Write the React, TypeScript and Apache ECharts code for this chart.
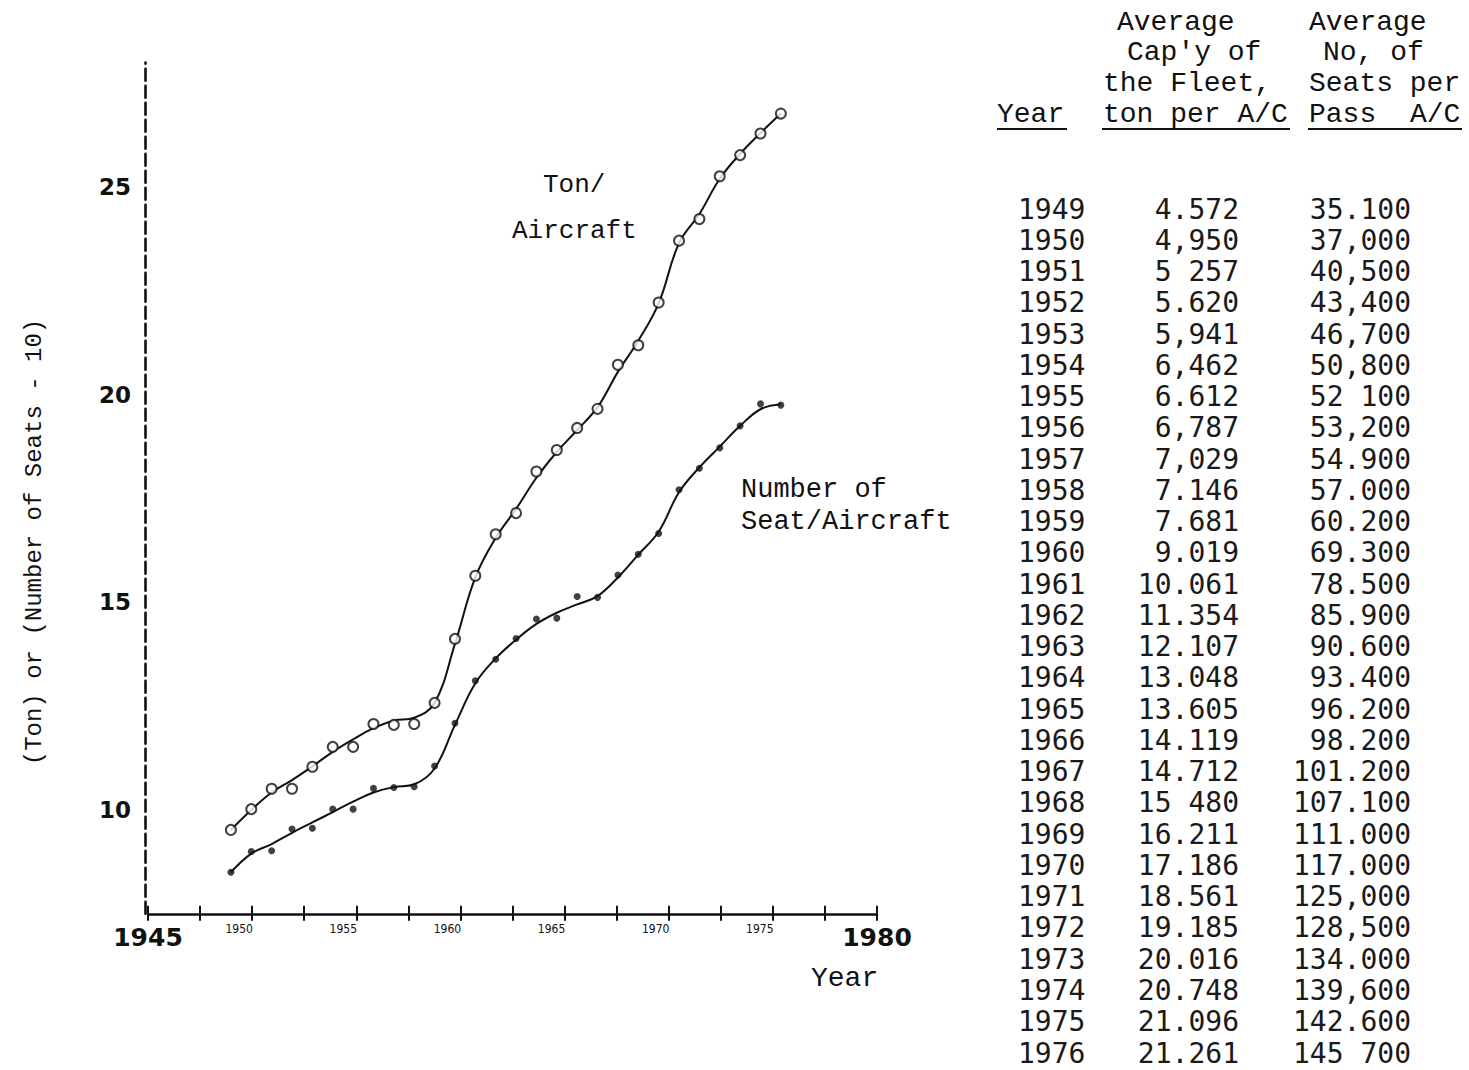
import React, { useEffect, useRef } from "react";
import * as echarts from "echarts";

// ---- data ----
const years = [
  1949, 1950, 1951, 1952, 1953, 1954, 1955, 1956, 1957, 1958, 1959, 1960, 1961, 1962,
  1963, 1964, 1965, 1966, 1967, 1968, 1969, 1970, 1971, 1972, 1973, 1974, 1975, 1976,
];
// Ton/Aircraft plotted points (open circles)
const tonPoints = [
  9.52, 10.02, 10.51, 10.51, 11.04, 11.52, 11.52, 12.07, 12.05, 12.07, 12.58, 14.12, 15.64, 16.64,
  17.15, 18.15, 18.67, 19.2, 19.66, 20.72, 21.19, 22.22, 23.71, 24.23, 25.26, 25.77, 26.29, 26.77,
];
// hand-drawn fitted curve through the Ton/Aircraft points
const tonCurve = [
  9.52, 10.0, 10.42, 10.72, 11.05, 11.4, 11.7, 11.97, 12.15, 12.22, 12.58, 14.0, 15.6, 16.55,
  17.25, 18.0, 18.62, 19.15, 19.7, 20.55, 21.3, 22.2, 23.65, 24.35, 25.2, 25.8, 26.3, 26.77,
];
// Number of Seat/Aircraft plotted points (filled dots)
const seatPoints = [
  8.5, 9.0, 9.02, 9.54, 9.56, 10.02, 10.02, 10.52, 10.54, 10.56, 11.06, 12.09, 13.11, 13.63,
  14.13, 14.6, 14.62, 15.14, 15.12, 15.66, 16.16, 16.66, 17.71, 18.23, 18.72, 19.25, 19.78, 19.75,
];
// hand-drawn fitted curve through the seat points
const seatCurve = [
  8.5, 8.95, 9.18, 9.45, 9.7, 9.95, 10.2, 10.42, 10.55, 10.62, 11.0, 12.05, 13.05, 13.65,
  14.1, 14.48, 14.75, 14.95, 15.15, 15.6, 16.15, 16.7, 17.65, 18.25, 18.75, 19.25, 19.65, 19.77,
];
const yTickLabels = [10, 15, 20, 25];
const xEndLabels = [1945, 1980];
const xSmallLabels = [1950, 1955, 1960, 1965, 1970, 1975];

// table on the right
const tableYears = years.map(String);
const tonPerAC = [
  "4.572", "4,950", "5 257", "5.620", "5,941", "6,462", "6.612", "6,787", "7,029", "7.146",
  "7.681", "9.019", "10.061", "11.354", "12.107", "13.048", "13.605", "14.119", "14.712", "15 480",
  "16.211", "17.186", "18.561", "19.185", "20.016", "20.748", "21.096", "21.261",
];
const seatsPerAC = [
  "35.100", "37,000", "40,500", "43,400", "46,700", "50,800", "52 100", "53,200", "54.900", "57.000",
  "60.200", "69.300", "78.500", "85.900", "90.600", "93.400", "96.200", "98.200", "101.200", "107.100",
  "111.000", "117.000", "125,000", "128,500", "134.000", "139,600", "142.600", "145 700",
];
const headerCol1 = ["Average", "Cap'y of", "the Fleet,", "ton per A/C"];
const headerCol2 = ["Average", "No, of", "Seats per"];
const headerCol2Last = ["Pass", "A/C"];
const headerYear = "Year";
const yAxisTitle = "(Ton) or (Number of Seats - 10)";
const tonLabel = ["Ton/", "Aircraft"];
const seatLabel = ["Number of", "Seat/Aircraft"];
const xAxisTitle = "Year";

// ---- layout ----
const W = 1469;
const H = 1070;
const MONO = '"Liberation Mono", "Courier New", monospace';
const NUMMONO = '"DejaVu Sans Mono", monospace';

const near = (a: number, b: number) => Math.abs(a - b) < 1e-6;

function buildGraphics() {
  const g: any[] = [];
  const txt = (text: string, x: number, y: number, extra: any = {}) =>
    g.push({
      type: "text",
      x,
      y,
      silent: true,
      style: {
        text,
        fill: "#111",
        fontFamily: MONO,
        fontSize: 28,
        verticalAlign: "middle",
        align: "left",
        ...extra,
      },
    });

  // header
  const headerY = [22, 52, 83, 114];
  const col1Left = [1117, 1127, 1103, 1103];
  const col2Left = [1309, 1323, 1309];
  headerCol1.forEach((t, i) => txt(t, col1Left[i], headerY[i]));
  headerCol2.forEach((t, i) => txt(t, col2Left[i], headerY[i]));
  txt(headerCol2Last[0], 1309, headerY[3]);
  txt(headerCol2Last[1], 1410, headerY[3]);
  txt(headerYear, 997, headerY[3]);
  const ul = (x1: number, x2: number) =>
    g.push({
      type: "line",
      silent: true,
      shape: { x1, y1: 129, x2, y2: 129 },
      style: { stroke: "#111", lineWidth: 2 },
    });
  ul(997, 1067);
  ul(1102, 1290);
  ul(1308, 1462);

  // rows
  const rowY0 = 209;
  const rowStep = 31.26;
  tableYears.forEach((yr, i) => {
    const y = rowY0 + i * rowStep;
    txt(yr, 1018, y, { fontFamily: NUMMONO, fill: "#1a1a1a" });
    txt(tonPerAC[i], 1239, y, { fontFamily: NUMMONO, align: "right", fill: "#1a1a1a" });
    txt(seatsPerAC[i], 1411, y, { fontFamily: NUMMONO, align: "right", fill: "#1a1a1a" });
  });

  // annotations in the plot
  txt(tonLabel[0], 543, 185, { fontSize: 26 });
  txt(tonLabel[1], 512, 231, { fontSize: 26 });
  txt(seatLabel[0], 741, 490, { fontSize: 27 });
  txt(seatLabel[1], 741, 522, { fontSize: 27 });
  txt(xAxisTitle, 811, 978, { fontSize: 28 });

  // rotated y-axis title
  g.push({
    type: "text",
    x: 34,
    y: 542,
    rotation: Math.PI / 2,
    silent: true,
    style: {
      text: yAxisTitle,
      fill: "#111",
      fontFamily: MONO,
      fontSize: 24,
      align: "center",
      verticalAlign: "middle",
    },
  });
  return g;
}

export default function App() {
  const ref = useRef<HTMLDivElement>(null);
  useEffect(() => {
    if (!ref.current) return;
    const chart = echarts.init(ref.current, undefined, { renderer: "svg" });
    const gridLeft = 148;
    const gridRight = W - 877;
    const gridTop = 62.5;
    const gridBottom = H - 913.8;

    chart.setOption({
      animation: false,
      backgroundColor: "#fff",
      grid: { left: gridLeft, right: gridRight, top: gridTop, bottom: gridBottom, containLabel: false },
      xAxis: [
        {
          // visible year axis
          type: "value",
          min: 1945,
          max: 1980,
          interval: 2.5,
          position: "bottom",
          axisLine: { show: true, onZero: false, lineStyle: { color: "#111", width: 2.5 } },
          axisTick: { show: true, inside: false, length: 7, lineStyle: { color: "#111", width: 2 } },
          splitLine: { show: false },
          axisLabel: {
            show: true,
            margin: 9,
            showMinLabel: true,
            showMaxLabel: true,
            formatter: (v: number) => {
              if (xEndLabels.some((e) => near(e, v))) return `{big|${Math.round(v)}}`;
              if (xSmallLabels.some((e) => near(e, v))) return `{small|${Math.round(v)}}`;
              return "";
            },
            rich: {
              big: {
                fontFamily: '"DejaVu Sans", sans-serif',
                fontWeight: "bold",
                fontSize: 25,
                color: "#111",
                lineHeight: 30,
              },
              small: {
                fontFamily: '"DejaVu Sans Condensed", "Liberation Sans", sans-serif',
                fontSize: 12,
                color: "#111",
                padding: [0, 26, 0, 0],
              },
            },
          },
        },
        {
          // data axis (the original plots the points on a slightly compressed year scale)
          type: "value",
          min: 1944.93,
          max: 1980.72,
          show: false,
        },
        {
          // upward half of the tick marks
          type: "value",
          min: 1945,
          max: 1980,
          interval: 2.5,
          position: "bottom",
          axisLine: { show: false, onZero: false },
          axisTick: { show: true, inside: true, length: 8, lineStyle: { color: "#111", width: 2 } },
          axisLabel: { show: false },
          splitLine: { show: false },
        },
      ],
      yAxis: {
        type: "value",
        min: 7.5,
        max: 28,
        interval: 2.5,
        offset: 3,
        axisLine: { show: true, onZero: false, lineStyle: { color: "#111", width: 2.6, type: [12, 5] } },
        axisTick: { show: false },
        splitLine: { show: false },
        axisLabel: {
          margin: 14,
          color: "#111",
          fontFamily: '"DejaVu Sans", sans-serif',
          fontWeight: "bold",
          fontSize: 23,
          formatter: (v: number) => (yTickLabels.some((t) => near(t, v)) ? String(Math.round(v)) : ""),
        },
      },
      series: [
        {
          type: "line",
          name: "Ton/Aircraft curve",
          xAxisIndex: 1,
          data: years.map((y, i) => [y, tonCurve[i]]),
          smooth: 0.4,
          showSymbol: false,
          lineStyle: { color: "#111", width: 2 },
          z: 2,
        },
        {
          type: "scatter",
          name: "Ton/Aircraft",
          xAxisIndex: 1,
          data: years.map((y, i) => [y, tonPoints[i]]),
          symbol: "circle",
          symbolSize: 10,
          itemStyle: { color: "#fff", borderColor: "#111", borderWidth: 2 },
          z: 3,
        },
        {
          type: "line",
          name: "Seat/Aircraft curve",
          xAxisIndex: 1,
          data: years.map((y, i) => [y, seatCurve[i]]),
          smooth: 0.4,
          showSymbol: false,
          lineStyle: { color: "#111", width: 2 },
          z: 2,
        },
        {
          type: "scatter",
          name: "Number of Seat/Aircraft",
          xAxisIndex: 1,
          data: years.map((y, i) => [y, seatPoints[i]]),
          symbol: "circle",
          symbolSize: 7,
          itemStyle: { color: "#111" },
          z: 3,
        },
      ],
      graphic: buildGraphics(),
    });
    return () => chart.dispose();
  }, []);

  return (
    <div
      ref={ref}
      style={{ position: "fixed", left: 0, top: 0, width: W, height: H, background: "#fff" }}
    />
  );
}
